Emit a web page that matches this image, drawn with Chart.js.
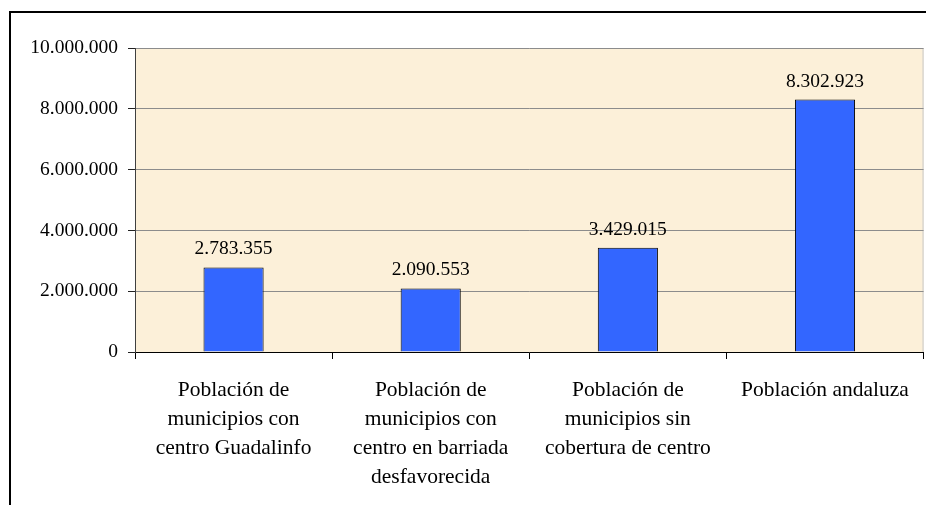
<!DOCTYPE html>
<html>
<head>
<meta charset="utf-8">
<script src="https://cdn.jsdelivr.net/npm/chart.js@4"></script>
<style>
  html, body { margin: 0; padding: 0; background: #fff; }
  canvas { display: block; }
</style>
</head>
<body>
<canvas id="chart" width="926" height="505"></canvas>
<script>
const categories = [
    ['Población de', 'municipios con', 'centro Guadalinfo'],
    ['Población de', 'municipios con', 'centro en barriada', 'desfavorecida'],
    ['Población de', 'municipios sin', 'cobertura de centro'],
    ['Población andaluza']
];
const poblacion = [2783355, 2090553, 3429015, 8302923];
const yMax = 10000000;
const yStep = 2000000;

const serif = '"Liberation Serif", "Times New Roman", serif';

function formatNumber(n) {
    return String(Math.round(n)).replace(/\B(?=(\d{3})+(?!\d))/g, '.');
}

// frame + parchment background behind the plot
const backgroundPlugin = {
    id: 'background',
    beforeDraw(chart) {
        const ctx = chart.ctx;
        const a = chart.chartArea;
        ctx.save();
        ctx.fillStyle = '#fcf0d9';
        ctx.fillRect(a.left, a.top, a.right - a.left, a.bottom - a.top);
        ctx.strokeStyle = '#000';
        ctx.lineWidth = 2;
        ctx.beginPath();
        ctx.moveTo(10, 505);
        ctx.lineTo(10, 12);
        ctx.lineTo(926, 12);
        ctx.stroke();
        ctx.strokeStyle = '#c8c8c8';
        ctx.lineWidth = 1;
        ctx.beginPath();
        ctx.moveTo(a.right - 0.5, a.top);
        ctx.lineTo(a.right - 0.5, a.bottom);
        ctx.stroke();
        ctx.restore();
    }
};

// value labels above each bar
const valueLabels = {
    id: 'valueLabels',
    afterDatasetsDraw(chart) {
        const ctx = chart.ctx;
        const meta = chart.getDatasetMeta(0);
        ctx.save();
        ctx.font = '19.5px ' + serif;
        ctx.fillStyle = '#000';
        ctx.textAlign = 'center';
        ctx.textBaseline = 'alphabetic';
        meta.data.forEach((bar, i) => {
            ctx.fillText(formatNumber(poblacion[i]), bar.x, bar.y - 13);
        });
        ctx.restore();
    }
};

new Chart(document.getElementById('chart'), {
    type: 'bar',
    data: {
        labels: categories,
        datasets: [{
            data: poblacion,
            backgroundColor: '#3366ff',
            borderColor: '#000',
            borderWidth: 1,
            categoryPercentage: 1,
            barPercentage: 0.305
        }]
    },
    options: {
        responsive: false,
        animation: false,
        layout: { padding: { left: 0, top: 48, right: 1, bottom: 0 } },
        plugins: {
            legend: { display: false },
            tooltip: { enabled: false }
        },
        scales: {
            x: {
                offset: true,
                grid: {
                    offset: true,
                    drawOnChartArea: false,
                    drawTicks: true,
                    tickLength: 7,
                    tickColor: '#000'
                },
                border: { color: '#000', width: 1 },
                ticks: {
                    color: '#000',
                    padding: 17,
                    maxRotation: 0,
                    autoSkip: false,
                    font: { family: serif, size: 21.5, lineHeight: '29px' }
                },
                afterFit(scale) { scale.height = 153; }
            },
            y: {
                min: 0,
                max: yMax,
                ticks: {
                    stepSize: yStep,
                    color: '#000',
                    padding: 10,
                    font: { family: serif, size: 19.5 },
                    callback: v => formatNumber(v)
                },
                grid: {
                    color: '#8c8c8c',
                    tickLength: 7,
                    tickColor: '#222'
                },
                border: { color: '#404040', width: 1 },
                afterFit(scale) { scale.width = 135; }
            }
        }
    },
    plugins: [backgroundPlugin, valueLabels]
});
</script>
</body>
</html>
